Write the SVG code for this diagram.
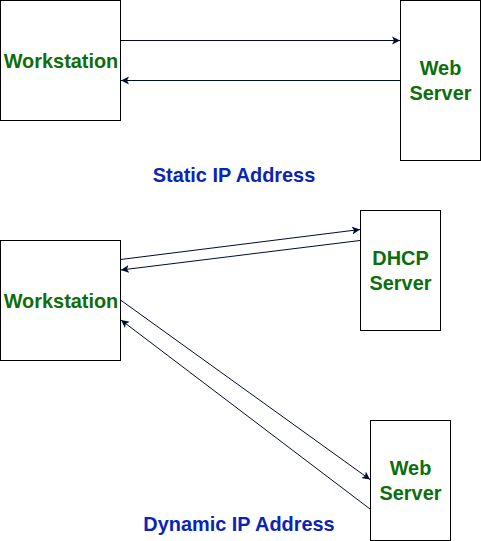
<svg xmlns="http://www.w3.org/2000/svg" width="481" height="541" viewBox="0 0 481 541">
<style>
.box{fill:#fff;stroke:#000;stroke-width:1}
.lbl{font-family:"Liberation Sans",Arial,sans-serif;font-weight:bold;font-size:19.9px;fill:#0c6e0c;text-anchor:middle}
.ttl{font-family:"Liberation Sans",Arial,sans-serif;font-weight:bold;font-size:19.9px;fill:#0a24b4;text-anchor:middle}
.ln{fill:none;stroke:#000a33;stroke-width:1}
</style>
<defs>
<marker id="ah" markerWidth="10" markerHeight="10" refX="8" refY="5" orient="auto" markerUnits="userSpaceOnUse">
<path d="M0,1 L8,5 L0,9 L2,5 Z" fill="#000a33"/>
</marker>
</defs>
<rect width="481" height="541" fill="#fff"/>
<g id="connectors">
<line class="ln" x1="120.5" y1="40.5" x2="400" y2="40.5" marker-end="url(#ah)"/>
<line class="ln" x1="400" y1="80.5" x2="121" y2="80.5" marker-end="url(#ah)"/>
<line class="ln" x1="120.5" y1="259.5" x2="360" y2="229.5" marker-end="url(#ah)"/>
<line class="ln" x1="360" y1="240.5" x2="121" y2="270" marker-end="url(#ah)"/>
<line class="ln" x1="120.5" y1="300" x2="370" y2="479.5" marker-end="url(#ah)"/>
<line class="ln" x1="370" y1="509" x2="121" y2="320" marker-end="url(#ah)"/>
</g>
<g id="workstation1">
<rect class="box" x="0.5" y="0.5" width="120" height="120"/>
<text class="lbl" x="61" y="68">Workstation</text>
</g>
<g id="webserver1">
<rect class="box" x="400.5" y="0.5" width="80" height="160"/>
<text class="lbl" x="440.5" y="75">Web</text>
<text class="lbl" x="440.5" y="100">Server</text>
</g>
<g id="static-title">
<text class="ttl" x="234" y="182">Static IP Address</text>
</g>
<g id="workstation2">
<rect class="box" x="0.5" y="240.5" width="120" height="120"/>
<text class="lbl" x="61" y="308">Workstation</text>
</g>
<g id="dhcp">
<rect class="box" x="360.5" y="210.5" width="80" height="120"/>
<text class="lbl" x="400.5" y="265">DHCP</text>
<text class="lbl" x="400.5" y="290">Server</text>
</g>
<g id="webserver2">
<rect class="box" x="370.5" y="420.5" width="80" height="120"/>
<text class="lbl" x="410.5" y="475">Web</text>
<text class="lbl" x="410.5" y="500">Server</text>
</g>
<g id="dynamic-title">
<text class="ttl" x="239" y="531">Dynamic IP Address</text>
</g>
</svg>
